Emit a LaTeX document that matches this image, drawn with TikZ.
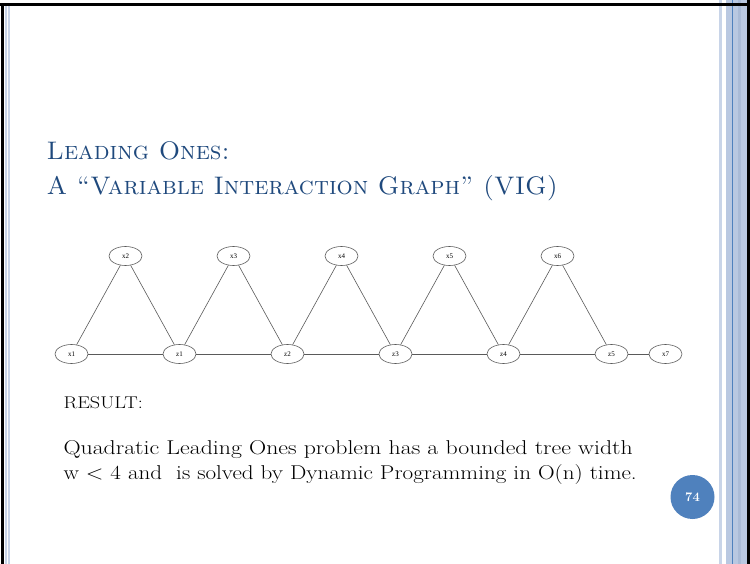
\documentclass[tikz,border=0pt]{standalone}
\usepackage{fontspec}
\usepackage{graphicx}
\newfontfamily\labfont{Liberation Serif}
\usetikzlibrary{shapes.geometric}

\definecolor{titleblue}{RGB}{31,73,125}
\definecolor{stripelight}{RGB}{200,212,232}
\definecolor{stripemid}{RGB}{185,200,225}
\definecolor{stripedark}{RGB}{170,187,215}
\definecolor{accentblue}{RGB}{79,129,189}
\definecolor{edgegray}{RGB}{90,90,90}

% wide body text
\newcommand{\widetext}[2][1.19]{\scalebox{#1}[1]{#2}}

\tikzset{
  vnode/.style={ellipse, draw=edgegray, line width=0.6pt, minimum width=33pt,
    minimum height=19pt, inner sep=0pt, font=\labfont\fontsize{7}{8}\selectfont},
  vedge/.style={draw=edgegray, line width=0.6pt},
  bodytext/.style={anchor=base west, inner sep=0pt, font=\fontsize{20}{24}\selectfont},
  titletext/.style={anchor=base west, inner sep=0pt, text=titleblue,
    font=\fontsize{25.4}{30}\selectfont},
}

\begin{document}
\begin{tikzpicture}[x=1pt, y=-1pt]
  \useasboundingbox (0,0) rectangle (750,564);
  \fill[white] (0,0) rectangle (750,564);

  % slide frame: stripes on the right
  \fill[stripelight] (719,0) rectangle (721.5,564);
  \fill[stripemid] (726,0) rectangle (747,564);
  \fill[stripedark] (738,0) rectangle (740.5,564);
  \fill[accentblue] (732,0) rectangle (733.3,564);
  % stripes on the left
  \fill[stripelight] (5,5) rectangle (6.5,564);
  \fill[stripelight] (8,5) rectangle (10.3,564);
  % black frame lines
  \fill[black] (0,3) rectangle (748,6);
  \fill[black] (1,3) rectangle (4,564);
  \fill[black] (747.3,0) rectangle (750,564);

  % title
  \node[titletext] (t1) at (46.5,160) {\textsc{Leading Ones:}};
  \node[titletext] (t2) at (46.5,195) {\textsc{A ``Variable Interaction Graph'' (VIG)}};

  % variable interaction graph
  \node[vnode] (x1) at (71.5,354) {x1};
  \node[vnode] (z1) at (179.5,354) {z1};
  \node[vnode] (z2) at (287.5,354) {z2};
  \node[vnode] (z3) at (395.5,354) {z3};
  \node[vnode] (z4) at (503.5,354) {z4};
  \node[vnode] (z5) at (611.5,354) {z5};
  \node[vnode] (x7) at (665.5,354) {x7};
  \node[vnode] (x2) at (125.5,256) {x2};
  \node[vnode] (x3) at (233.5,256) {x3};
  \node[vnode] (x4) at (341.5,256) {x4};
  \node[vnode] (x5) at (449.5,256) {x5};
  \node[vnode] (x6) at (557.5,256) {x6};

  \path[vedge] (x1) -- (z1) -- (z2) -- (z3) -- (z4) -- (z5) -- (x7);
  \path[vedge] (x1) -- (x2) -- (z1);
  \path[vedge] (z1) -- (x3) -- (z2);
  \path[vedge] (z2) -- (x4) -- (z3);
  \path[vedge] (z3) -- (x5) -- (z4);
  \path[vedge] (z4) -- (x6) -- (z5);

  % result text
  \node[bodytext, font=\fontsize{17}{20}\selectfont] (res) at (63.3,408.3) {\widetext{RESULT:}};
  \node[bodytext] (l1) at (63.3,454) {\widetext{Quadratic Leading Ones problem has a bounded tree width}};
  \node[bodytext] (l2) at (63.3,479.3) {\widetext[1.155]{w < 4 and \ is solved by Dynamic Programming in O(n) time.}};

  % slide number
  \node[circle, fill=accentblue, minimum size=44pt, inner sep=0pt, text=white,
        font=\bfseries\fontsize{13}{14}\selectfont] (num) at (692.5,497) {74};
\end{tikzpicture}
\end{document}
